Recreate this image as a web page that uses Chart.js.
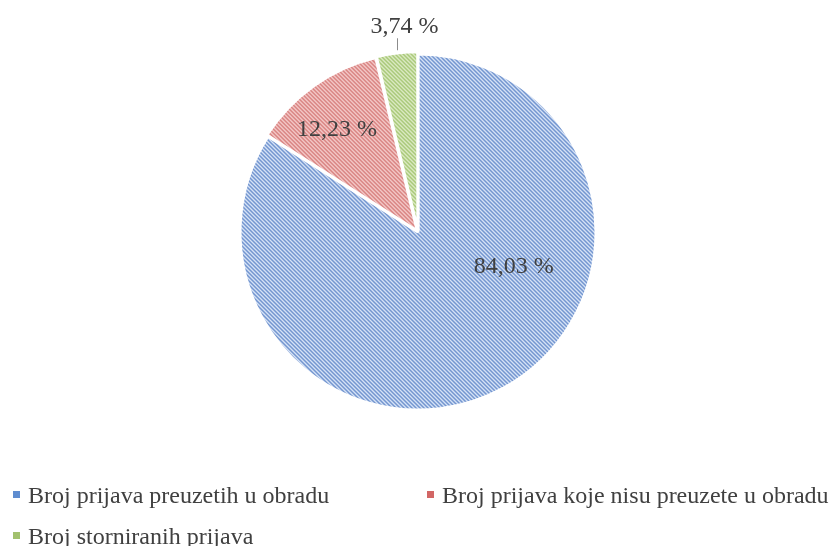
<!DOCTYPE html>
<html>
<head>
<meta charset="utf-8">
<script src="https://cdn.jsdelivr.net/npm/chart.js@4/dist/chart.umd.min.js"></script>
<style>
  html, body { margin: 0; padding: 0; background: #fff; }
  #wrap { position: relative; width: 833px; height: 546px; overflow: hidden; }
  #chart { position: absolute; left: 0; top: 0; }
  .legend-item {
    position: absolute;
    font-family: 'Liberation Serif', 'Times New Roman', serif;
    font-size: 24px;
    color: #404040;
    white-space: nowrap;
    line-height: 24px;
  }
  .legend-item i {
    position: absolute;
    width: 7px;
    height: 7px;
    left: -15px;
    top: 8px;
  }
</style>
</head>
<body>
<div id="wrap">
  <canvas id="chart" width="833" height="546"></canvas>
</div>
<script>
const categories = [
  'Broj prijava preuzetih u obradu',
  'Broj prijava koje nisu preuzete u obradu',
  'Broj storniranih prijava',
]
const shares = [84.03, 12.23, 3.74]
const shareLabels = ['84,03 %', '12,23 %', '3,74 %']

const markerColors = ['#5f8dd0', '#d26665', '#a2c16e']
const hatchColors = [
  ['#7496cf', '#a0b9e2', '#d6e2f5'],
  ['#d57b79', '#e6a3a2', '#f8d5d4'],
  ['#a3c46f', '#c1d99b', '#e4efd1'],
]

// 4px diagonal hatch, lines running down-right
function makeHatch([dark, mid, light]) {
  const c = document.createElement('canvas')
  c.width = 4
  c.height = 4
  const g = c.getContext('2d')
  const shades = [dark, mid, light, mid]
  for (let y = 0; y < 4; y++) {
    for (let x = 0; x < 4; x++) {
      g.fillStyle = shades[((x - y) % 4 + 4) % 4]
      g.fillRect(x, y, 1, 1)
    }
  }
  return g.createPattern(c, 'repeat')
}

const ctx = document.getElementById('chart').getContext('2d')
const patterns = hatchColors.map(makeHatch)

const sliceLabels = {
  id: 'sliceLabels',
  afterDatasetsDraw(chart, args, opts) {
    const { ctx } = chart
    const meta = chart.getDatasetMeta(0)
    ctx.save()
    ctx.font = '24px "Liberation Serif", "Times New Roman", serif'
    ctx.fillStyle = '#404040'
    ctx.textAlign = 'center'
    meta.data.forEach((arc, i) => {
      const p = opts.place[i]
      const mid = (arc.startAngle + arc.endAngle) / 2
      const off = arc.options.offset || 0
      if (p.outside) {
        const ex = arc.x + Math.cos(mid) * (arc.outerRadius + off)
        const ey = arc.y + Math.sin(mid) * (arc.outerRadius + off)
        ctx.strokeStyle = '#8c8c8c'
        ctx.lineWidth = 1
        ctx.beginPath()
        ctx.moveTo(Math.round(ex) + 0.5, ey)
        ctx.lineTo(Math.round(ex) + 0.5, ey - p.leader)
        ctx.stroke()
        ctx.textBaseline = 'alphabetic'
        ctx.fillText(shareLabels[i], ex + p.dx, ey - p.leader - 5)
      } else {
        const a = p.angle != null ? p.angle * Math.PI / 180 : mid
        const r = arc.outerRadius * p.r
        ctx.textBaseline = 'middle'
        ctx.fillText(shareLabels[i], arc.x + Math.cos(a) * r, arc.y + Math.sin(a) * r + 1)
      }
    })
    ctx.restore()
  },
}

new Chart(ctx, {
  type: 'pie',
  data: {
    labels: categories,
    datasets: [{
      data: shares,
      backgroundColor: patterns,
      borderColor: '#ffffff',
      borderWidth: 3,
      offset: [0, 5, 5],
    }],
  },
  options: {
    responsive: false,
    animation: false,
    radius: 178,
    layout: { padding: { left: 3, right: 0, top: 0, bottom: 82 } },
    plugins: {
      legend: { display: false },
      tooltip: { enabled: false },
      sliceLabels: {
        place: [
          { angle: 19.2, r: 0.57 },
          { angle: -128, r: 0.74 },
          { outside: true, leader: 12, dx: 8 },
        ],
      },
    },
  },
  plugins: [sliceLabels],
})

// legend below the pie, two columns
const legendSpots = [[28, 483], [442, 483], [28, 524]]
const wrap = document.getElementById('wrap')
categories.forEach((name, i) => {
  const el = document.createElement('div')
  el.className = 'legend-item'
  el.style.left = legendSpots[i][0] + 'px'
  el.style.top = legendSpots[i][1] + 'px'
  const box = document.createElement('i')
  box.style.background = markerColors[i]
  el.appendChild(box)
  el.appendChild(document.createTextNode(name))
  wrap.appendChild(el)
})
</script>
</body>
</html>
